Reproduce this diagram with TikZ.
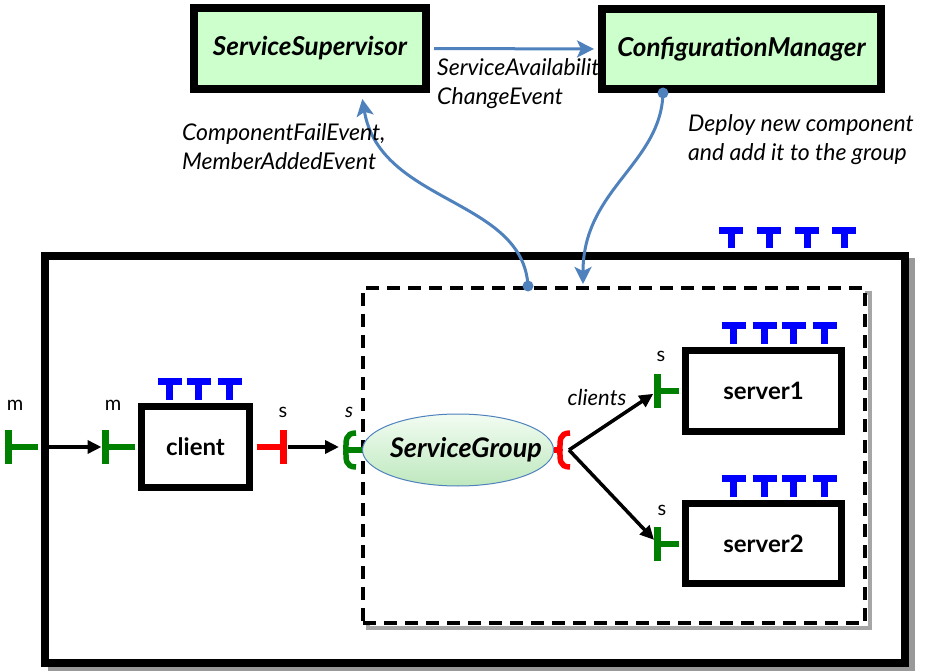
\documentclass[tikz,border=0pt]{standalone}
\usepackage{fontspec}
\setmainfont{Lato}
\usepackage{tikz}
\usetikzlibrary{positioning, calc, arrows.meta, shapes.geometric, shadows}
\definecolor{MgrGreen}{RGB}{204,255,204}
\definecolor{EvtBlue}{RGB}{79,129,189}
\definecolor{PortGreen}{RGB}{0,128,0}
\definecolor{SgTop}{RGB}{242,252,242}
\definecolor{SgBot}{RGB}{190,232,190}
\newcommand{\drawreq}[1]{
    \draw[reqport] (#1) -- ++(0,-18) coordinate(t);
    \draw[reqport] ($(t)+(-12,0)$) -- ($(t)+(12,0)$);
}
\newcommand{\drawtee}[4]{
    \draw[teeport, #1] (#2) -- ++(#3) coordinate(#4);
    \draw[teebar, #1] ($(#4)+(0,-17)$) -- ($(#4)+(0,17)$);
}
\newcommand{\drawsock}[4]{
    \coordinate (#4) at (#2);
    \draw[sockport, #1] ($(#4)+(10,-17)$) .. controls ($(#4)+(-1,-17)$) and ($(#4)+(0,-9)$) .. (#4)
        .. controls ($(#4)+(0,9)$) and ($(#4)+(-1,17)$) .. ($(#4)+(10,17)$);
    \draw[sockport, #1] (#4) -- ++(#3);
}
\tikzset{
    mgrbox/.style={
        rectangle, draw=black, line width=8pt, fill=MgrGreen,
        font=\bfseries\itshape\fontsize{26}{30}\selectfont
    },
    compbox/.style={
        rectangle, draw=black, line width=7pt, fill=white,
        minimum width=156pt, minimum height=81pt,
        font=\bfseries\fontsize{24}{28}\selectfont
    },
    evt/.style={
        line width=3pt, EvtBlue, -{Stealth[length=17pt, width=17pt, inset=4pt]}
    },
    flow/.style={
        line width=3.5pt, black, -{Triangle[length=14pt, width=13pt]}
    },
    reqport/.style={draw=blue, line width=7pt},
    teeport/.style={line width=6pt},
    teebar/.style={line width=7.5pt},
    sockport/.style={line width=5.5pt},
    evtlbl/.style={
        font=\itshape\fontsize{23}{29}\selectfont, align=left, anchor=west, inner sep=0pt
    },
    portlbl/.style={font=\fontsize{20}{22}\selectfont, inner sep=0pt}
}

\begin{document}
\begin{tikzpicture}[x=1pt, y=-1pt]
    \useasboundingbox (0,0) rectangle (927,671);

    % --- MANAGERS (TOP) ---
    \node[evtlbl] (availLbl) at (437,84) {ServiceAvailability\\ChangeEvent};
    \node[mgrbox, minimum width=232pt, minimum height=81pt] (sup) at (310,48.5) {ServiceSupervisor};
    \node[mgrbox, minimum width=279pt, minimum height=80pt] (cfg) at (741.5,49) {ConfigurationManager};

    % --- COMPOSITE AND GROUP ---
    \node[draw, line width=7.5pt, fill=white, minimum width=860pt, minimum height=407pt,
        general shadow={draw=black!40, solid, line width=7pt, shadow xshift=6pt, shadow yshift=-6pt}]
        (comp) at (475,459.5) {};
    \node[draw, line width=4pt, dash pattern=on 13pt off 8pt, fill=white, minimum width=502pt, minimum height=335pt,
        general shadow={draw=black!35, solid, line width=4pt, shadow xshift=5pt, shadow yshift=-5pt}]
        (grp) at (614,455.5) {};

    % Components
    \node[compbox, minimum width=108pt] (cli) at (195.5,447) {client};
    \node[compbox] (srv1) at (763.5,391) {server1};
    \node[compbox, minimum height=80pt] (srv2) at (763.5,543.5) {server2};
    \node[ellipse, draw=EvtBlue, line width=1pt, top color=SgTop, bottom color=SgBot,
        minimum width=191pt, minimum height=72pt, inner sep=0pt,
        label={[font=\bfseries\itshape\fontsize{27}{30}\selectfont, inner sep=0pt, xshift=8pt]center:ServiceGroup}]
        (sg) at (458,450) {};

    % Required ports
    \foreach \dx in {690,728,766,803} {\drawreq{$(comp.north west)+(\dx,-3.75)$}}
    \foreach \dx in {31.5,60.5,91.5} {\drawreq{$(cli.north west)+(\dx,-3.5)$}}
    \foreach \dx in {51.5,82.5,111.5,142.5} {
        \drawreq{$(srv1.north west)+(\dx,-3.5)$}
        \drawreq{$(srv2.north west)+(\dx,-3.5)$}
    }

    % Provided ports
    \drawtee{PortGreen}{$(comp.west |- cli.west)+(-3.75,0)$}{-29,0}{mComp}
    \drawtee{PortGreen}{$(cli.west)+(-3.5,0)$}{-29,0}{mCli}
    \drawtee{red}{$(cli.east)+(3.5,0)$}{27,0}{sCli}
    \drawtee{PortGreen}{$(srv1.west)+(-3.5,0)$}{-21,0}{sSrv1}
    \drawtee{PortGreen}{$(srv2.west)+(-3.5,0)$}{-21,0}{sSrv2}
    \drawsock{PortGreen}{$(sg.west)+(-16,0)$}{16,0}{sSg}
    \drawsock{red}{$(sg.east)+(6,0)$}{-6,0}{cSg}
    \coordinate (fan) at ($(cSg)+(9,0)$);

    % Port labels
    \node[portlbl] (mCompLbl) at (15,405) {m};
    \node[portlbl] (mCliLbl) at (113,405) {m};
    \node[portlbl] (sCliLbl) at (283,412) {s};
    \node[portlbl, font=\itshape\fontsize{20}{22}\selectfont] (sSgLbl) at (349,412) {s};
    \node[portlbl] (sSrv1Lbl) at (661,356) {s};
    \node[portlbl] (sSrv2Lbl) at (662,510) {s};
    \node[portlbl, font=\itshape\fontsize{22}{24}\selectfont] (clientsLbl) at (597,397) {clients};

    % Bindings
    \draw[flow, shorten >=4pt] (comp.west |- mCli) -- (mCli);
    \draw[flow, shorten <=4pt, shorten >=7pt] (sCli) -- (sCli -| sSg);
    \draw[flow, shorten >=5pt] (fan) -- (sSrv1);
    \draw[flow, shorten >=5pt] (fan) -- (sSrv2);

    % --- EVENTS ---
    \draw[evt, shorten <=4pt, shorten >=4pt] (sup.east) -- (cfg.west);

    \coordinate (cfgDot) at ($(cfg.south west)+(65,0)$);
    \coordinate (grpIn) at ($(grp.north west)+(222,0)$);
    \fill[EvtBlue] (cfgDot) circle (5.5pt);
    \draw[evt, shorten >=2pt] (cfgDot) .. controls +(-2,71) and +(0,-97) .. (grpIn);
    \node[evtlbl] (deployLbl) at (688,140) {Deploy new component\\and add it to the group};

    \coordinate (grpOut) at ($(grp.north west)+(167,0)$);
    \coordinate (supIn) at ($(sup.south)+(52,4)$);
    \fill[EvtBlue] (grpOut) circle (5.5pt);
    \draw[evt, shorten >=2pt] (grpOut) .. controls +(-5,-88) and +(18,107) .. (supIn);
    \node[evtlbl] (failLbl) at (182,147) {ComponentFailEvent,\\MemberAddedEvent};
\end{tikzpicture}
\end{document}
